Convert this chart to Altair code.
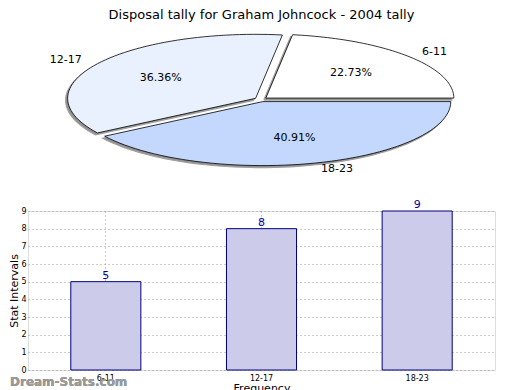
import altair as alt
import pandas as pd

# ---- data ----
categories = ["6-11", "12-17", "18-23"]
counts = [5, 8, 9]
pie_colors = ["#ffffff", "#eaf1fe", "#c4d8fd"]
title_text = "Disposal tally for Graham Johncock - 2004 tally"

df = pd.DataFrame({"cat": categories, "value": counts, "idx": list(range(len(categories)))})

# ---- pie geometry (unit ellipse mapped by scales) ----
N = 60
EXPLODE = 0.034
PIE_W, PIE_H = 467, 150
RX, RY = 188.0, 64.0
CXP, CYP = 233.0, 76.5  # centre in panel px (from left, from bottom)
xdom = [-CXP / RX, (PIE_W - CXP) / RX]
ydom = [-CYP / RY, (PIE_H - CYP) / RY]

def pie_base():
    return (
        alt.Chart(df)
        .transform_joinaggregate(total="sum(value)")
        .transform_window(cum="sum(value)", sort=[alt.SortField("idx")])
        .transform_calculate(
            a0="2*PI*(datum.cum - datum.value)/datum.total",
            a1="2*PI*datum.cum/datum.total",
        )
        .transform_calculate(
            mid="(datum.a0 + datum.a1)/2",
            pct="format(100*datum.value/datum.total, '.2f') + '%'",
        )
        .transform_calculate(
            ox=f"{EXPLODE}*cos(datum.mid)",
            oy=f"{EXPLODE}*sin(datum.mid)",
        )
    )

xs = alt.Scale(domain=xdom, nice=False, zero=False)
ys = alt.Scale(domain=ydom, nice=False, zero=False)

wedges = (
    pie_base()
    .transform_calculate(steps=f"sequence(-1, {N + 2})")
    .transform_flatten(["steps"], as_=["k"])
    .transform_calculate(
        ang=f"datum.a0 + (datum.a1 - datum.a0)*datum.k/{N}",
    )
    .transform_calculate(
        px=f"(datum.k < 0 || datum.k > {N}) ? datum.ox : datum.ox + cos(datum.ang)",
        py=f"(datum.k < 0 || datum.k > {N}) ? datum.oy : datum.oy + sin(datum.ang)",
    )
)

enc = dict(
    x=alt.X("px:Q", scale=xs, axis=None),
    y=alt.Y("py:Q", scale=ys, axis=None),
    order=alt.Order("k:Q"),
    detail="cat:N",
)

shadow = wedges.mark_line(
    fill="#909090", stroke="#a0a0a0", strokeWidth=1.2, xOffset=-2, yOffset=2, fillOpacity=1
).encode(**enc)

wedge_fill = wedges.mark_line(stroke="black", strokeWidth=0.8).encode(
    fill=alt.Fill("cat:N", scale=alt.Scale(domain=categories, range=pie_colors), legend=None),
    **enc,
)

labels = (
    pie_base()
    .transform_calculate(
        lx="datum.ox + 1.1*cos(datum.mid)",
        ly="datum.oy + 1.1*sin(datum.mid)",
        side="cos(datum.mid) >= 0 ? 'L' : 'R'",
    )
)
lab_left = labels.transform_filter("datum.side == 'L'").mark_text(
    align="left", baseline="middle", fontSize=11, font="DejaVu Sans", color="black"
).encode(x=alt.X("lx:Q", scale=xs, axis=None), y=alt.Y("ly:Q", scale=ys, axis=None), text="cat:N")
lab_right = labels.transform_filter("datum.side == 'R'").mark_text(
    align="right", baseline="middle", fontSize=11, font="DejaVu Sans", color="black"
).encode(x=alt.X("lx:Q", scale=xs, axis=None), y=alt.Y("ly:Q", scale=ys, axis=None), text="cat:N")

pct = (
    pie_base()
    .transform_calculate(
        tx="datum.ox + 0.6*cos(datum.mid)",
        ty="datum.oy + 0.6*sin(datum.mid)",
    )
    .mark_text(align="center", baseline="middle", fontSize=11, font="DejaVu Sans", color="black")
    .encode(x=alt.X("tx:Q", scale=xs, axis=None), y=alt.Y("ty:Q", scale=ys, axis=None), text="pct:N")
)

pie = alt.layer(shadow, wedge_fill, lab_left, lab_right, pct).properties(
    width=PIE_W,
    height=PIE_H,
    title=alt.TitleParams(
        title_text, anchor="middle", fontSize=13, font="DejaVu Sans", fontWeight="normal",
        color="black", offset=4,
    ),
    view=alt.ViewBackground(stroke="transparent"),
)

# ---- bar chart ----
bar_base = alt.Chart(df).encode(
    x=alt.X(
        "cat:N",
        sort=categories,
        scale=alt.Scale(paddingInner=0.55, paddingOuter=0.275),
        axis=alt.Axis(
            title="Frequency", labelAngle=0, labelFontSize=8, labelFont="DejaVu Sans",
            titleFontSize=11, titleFont="DejaVu Sans", titleFontWeight="normal",
            grid=True, gridDash=[1, 3], gridColor="#999999", gridWidth=1, bandPosition=0.5,
            domain=False, ticks=False, labelPadding=4,
            titlePadding=0, labelColor="black", titleColor="black",
        ),
    ),
    y=alt.Y(
        "value:Q",
        scale=alt.Scale(domain=[0, 9], nice=False),
        axis=alt.Axis(
            title="Stat Intervals", values=list(range(10)), labelFontSize=8, labelFont="DejaVu Sans",
            titleFontSize=11, titleFont="DejaVu Sans", titleFontWeight="normal",
            grid=True, gridDash=[1, 3], gridColor="#999999", gridWidth=1,
            domain=False, ticks=False, labelPadding=2, titlePadding=1,
            labelColor="black", titleColor="black",
        ),
    ),
)

bars = bar_base.mark_bar(fill="#ccccea", stroke="#000080", strokeWidth=1)
bar_text = bar_base.mark_text(
    baseline="bottom", dy=-1, fontSize=11, font="DejaVu Sans", color="#0000a0"
).encode(text="value:Q")
watermark = alt.Chart(df).mark_text(
    text="Dream-Stats.com", align="left", baseline="middle", fontSize=12, fontWeight="bold",
    font="DejaVu Sans", color="#999999",
).encode(x=alt.value(-18), y=alt.value(171))

bar = alt.layer(bars, bar_text, watermark).properties(width=467, height=159)

chart = (
    alt.vconcat(pie, bar, spacing=35, bounds="flush")
    .configure_view(stroke="black", strokeWidth=1)
    .configure(background="white", padding={"left": 0, "top": 0, "right": 0, "bottom": 0})
)

chart.save("out.html", embed_options={"renderer": "svg", "actions": False})
